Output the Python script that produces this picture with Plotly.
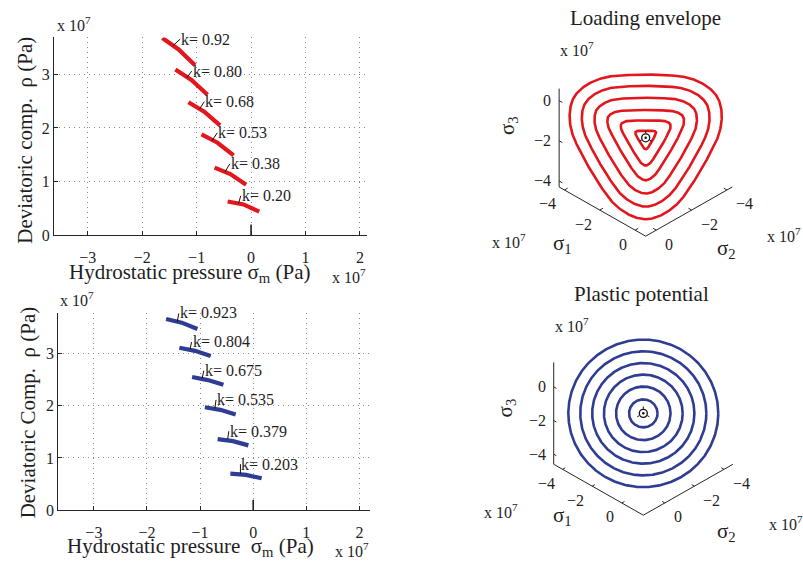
import numpy as np
import plotly.graph_objects as go

FONT = "Liberation Serif"
W, H = 803, 569
RED = "#e3161d"
BLUE = "#2e3d93"
AXC = "#262626"
TXT = "#1e1e1e"

# ---------------- data (units of 1e7 Pa) ----------------
# top-left: loading envelope meridian sections
k_load = ["k= 0.92", "k= 0.80", "k= 0.68", "k= 0.53", "k= 0.38", "k= 0.20"]
load_sm_start = [-1.63, -1.39, -1.15, -0.91, -0.67, -0.43]
load_rho_start = [3.68, 3.09, 2.48, 1.88, 1.26, 0.63]
load_sm_mid = [-1.33, -1.095, -0.86, -0.615, -0.38, -0.14]
load_rho_mid = [3.465, 2.895, 2.305, 1.725, 1.14, 0.575]
load_sm_end = [-1.03, -0.80, -0.57, -0.32, -0.09, 0.15]
load_rho_end = [3.17, 2.62, 2.05, 1.49, 0.94, 0.44]
load_tag_sm = [-1.43, -1.18, -0.95, -0.72, -0.48, -0.23]
load_tag_rho = [3.54, 2.94, 2.35, 1.76, 1.18, 0.59]
load_lab_sm = [-1.30, -1.09, -0.86, -0.62, -0.39, -0.19]
load_lab_rho = [3.66, 3.06, 2.49, 1.91, 1.33, 0.735]

# bottom-left: plastic potential meridian sections
k_pot = ["k= 0.923", "k= 0.804", "k= 0.675", "k= 0.535", "k= 0.379", "k= 0.203"]
pot_sm_start = [-1.64, -1.39, -1.15, -0.91, -0.67, -0.43]
pot_rho_start = [3.66, 3.11, 2.55, 1.97, 1.36, 0.70]
pot_sm_mid = [-1.345, -1.095, -0.855, -0.62, -0.38, -0.135]
pot_rho_mid = [3.59, 3.05, 2.49, 1.92, 1.32, 0.675]
pot_sm_end = [-1.05, -0.80, -0.56, -0.33, -0.09, 0.16]
pot_rho_end = [3.47, 2.95, 2.40, 1.83, 1.24, 0.61]
pot_tag_sm = [-1.43, -1.19, -0.96, -0.72, -0.48, -0.24]
pot_tag_rho = [3.61, 3.08, 2.53, 1.95, 1.36, 0.70]
pot_lab_sm = [-1.40, -1.16, -0.93, -0.70, -0.46, -0.24]
pot_lab_rho = [3.78, 3.22, 2.67, 2.11, 1.51, 0.88]

hydro_sm = [0, 0]
hydro_rho = [0, 0.2]

# top-right: deviatoric sections of loading envelope
# rho at compression meridian (vertex) and tension meridian (flat side)
env_rho_comp = [3.31, 2.80, 2.27, 1.73, 1.13, 0.47]
env_rho_tens = [2.57, 2.11, 1.63, 1.13, 0.71, 0.29]
env_lim = [-4.3, 0.6]

# bottom-right: deviatoric sections of plastic potential
pot_rho = [3.58, 3.01, 2.44, 1.88, 1.30, 0.68]
pot_lim = [-4.6, 1.45]

ticks_left_x = [-3, -2, -1, 0, 1, 2]
ticks_left_y = [0, 1, 2, 3]
ticks3d = [-4, -2, 0]

# ---------------- geometry of the panels (pixels) ----------------
TL = dict(x0=54, x1=367, y0=38, y1=239, xr=[-3.62, 2.13], yr=[0, 3.69])
BL = dict(x0=58.3, x1=370, y0=318.3, y1=518.3, xr=[-3.67, 2.2], yr=[0, 3.77])
L_env, C_env = 20.4, (645.7, 140.0)
L_pot, C_pot = 17.1, (643.3, 420.0)


def px(x):
    return x / W


def py(y):
    return 1 - y / H


def proj(s1, s2, s3):
    s1, s2, s3 = np.asarray(s1, float), np.asarray(s2, float), np.asarray(s3, float)
    return 0.8660254 * (s1 - s2), s3 - 0.5 * (s1 + s2)


SQ = np.sqrt(1.5)

fig = go.Figure()


def line(x, y, xa, ya, color=AXC, width=1.0):
    fig.add_trace(go.Scatter(x=list(x), y=list(y), mode="lines", xaxis=xa, yaxis=ya,
                             line=dict(color=color, width=width), hoverinfo="skip",
                             showlegend=False))


def data_to_paper(P, x, y):
    fx = P["x0"] + (x - P["xr"][0]) / (P["xr"][1] - P["xr"][0]) * (P["x1"] - P["x0"])
    fy = P["y1"] - (y - P["yr"][0]) / (P["yr"][1] - P["yr"][0]) * (P["y1"] - P["y0"])
    return px(fx), py(fy)


# ------------- left panels -------------
def left_panel(P, xa, ya, s0, r0, sm, rm, s1, r1, ts, tr, ls, lr, labels, color):
    for i in range(len(labels)):
        line([s0[i], sm[i], s1[i]], [r0[i], rm[i], r1[i]], xa, ya, color, 4.2)
    for i in range(len(labels)):
        line([ts[i], ls[i]], [tr[i], min(lr[i], P["yr"][1])], xa, ya, "#111", 1.0)
        ax, ay = data_to_paper(P, ls[i], lr[i])
        fig.add_annotation(x=ax, y=ay, xref="paper", yref="paper", text=labels[i],
                           showarrow=False, xanchor="left", yanchor="middle", xshift=-1,
                           font=dict(family=FONT, size=16, color=TXT))
    line(hydro_sm, hydro_rho, xa, ya, "#111", 1.5)


left_panel(TL, "x", "y", load_sm_start, load_rho_start, load_sm_mid, load_rho_mid,
           load_sm_end, load_rho_end, load_tag_sm, load_tag_rho, load_lab_sm, load_lab_rho,
           k_load, RED)
left_panel(BL, "x2", "y2", pot_sm_start, pot_rho_start, pot_sm_mid, pot_rho_mid,
           pot_sm_end, pot_rho_end, pot_tag_sm, pot_tag_rho, pot_lab_sm, pot_lab_rho,
           k_pot, BLUE)


# ------------- right panels -------------
def box3d(xa, ya, lim):
    lo, hi = lim
    x, y = proj([lo, lo], [hi, hi], [lo, hi]); line(x, y, xa, ya)
    x, y = proj([lo, hi], [hi, hi], [lo, lo]); line(x, y, xa, ya)
    x, y = proj([hi, hi], [hi, lo], [lo, lo]); line(x, y, xa, ya)
    tl = 0.18
    for t in ticks3d:
        x, y = proj([lo, lo + tl], [hi, hi], [t, t]); line(x, y, xa, ya)
        x, y = proj([t, t], [hi, hi - tl], [lo, lo]); line(x, y, xa, ya)
        x, y = proj([hi, hi - tl], [t, t], [lo, lo]); line(x, y, xa, ya)
        lab = "\u2212%d" % (-t) if t < 0 else "%d" % t
        x, y = proj(lo, hi, t)
        fig.add_annotation(x=float(x), y=float(y), xref=xa, yref=ya, text=lab, showarrow=False,
                           xanchor="right", yanchor="middle", xshift=-6,
                           font=dict(family=FONT, size=16, color=TXT))
        x, y = proj(t, hi, lo)
        fig.add_annotation(x=float(x), y=float(y), xref=xa, yref=ya, text=lab, showarrow=False,
                           xanchor="right", yanchor="middle", xshift=-6, yshift=-14,
                           font=dict(family=FONT, size=16, color=TXT))
        x, y = proj(hi, t, lo)
        fig.add_annotation(x=float(x), y=float(y), xref=xa, yref=ya, text=lab, showarrow=False,
                           xanchor="left", yanchor="middle", xshift=7, yshift=-14,
                           font=dict(family=FONT, size=16, color=TXT))


def center_mark(xa, ya, L):
    x, y = proj(0, 0, 0)
    x, y = float(x), float(y)
    fig.add_trace(go.Scatter(x=[x], y=[y], mode="markers", xaxis=xa, yaxis=ya,
                             marker=dict(symbol="circle-open", size=8, color="#111",
                                         line=dict(width=1.3, color="#111")),
                             hoverinfo="skip", showlegend=False))
    fig.add_trace(go.Scatter(x=[x], y=[y], mode="markers", xaxis=xa, yaxis=ya,
                             marker=dict(symbol="circle", size=2.5, color="#111"),
                             hoverinfo="skip", showlegend=False))
    for ang in (90, 210, 330):
        a = np.radians(ang)
        r0, r1 = 4.5 / L, 7.0 / L
        line([x + r0 * np.cos(a), x + r1 * np.cos(a)], [y + r0 * np.sin(a), y + r1 * np.sin(a)],
             xa, ya, "#111", 1.0)


PHI = np.linspace(0, 2 * np.pi, 721)


def offset_triangle_r(rc, rt):
    # polar radius of the set of points within d of an equilateral triangle (vertex down)
    R0 = 2.0 * (rc - rt)
    d = 2.0 * rt - rc
    xs, ys = [], []
    for vdeg in (270, 30, 150):
        v = np.radians(vdeg)
        a = np.radians(np.linspace(vdeg - 60, vdeg + 60, 120))
        xs.extend(R0 * np.cos(v) + d * np.cos(a))
        ys.extend(R0 * np.sin(v) + d * np.sin(a))
    xs.append(xs[0]); ys.append(ys[0])
    xs, ys = np.array(xs), np.array(ys)
    s = np.concatenate([[0], np.cumsum(np.hypot(np.diff(xs), np.diff(ys)))])
    su = np.linspace(0, s[-1], 3000)
    xd, yd = np.interp(su, s, xs), np.interp(su, s, ys)
    ang = np.mod(np.arctan2(yd, xd), 2 * np.pi)
    rad = np.hypot(xd, yd)
    o = np.argsort(ang)
    return np.interp(PHI, ang[o], rad[o], period=2 * np.pi)


def willam_warnke_r(rc, rt):
    # Lode angle measured from the nearest tension meridian (90, 210, 330 deg)
    th = np.abs(np.mod(PHI - np.pi / 2 + np.pi / 3, 2 * np.pi / 3) - np.pi / 3)
    c = np.cos(th)
    D = rc * rc - rt * rt
    num = 2 * rc * D * c + rc * (2 * rt - rc) * np.sqrt(4 * D * c * c + 5 * rt * rt - 4 * rt * rc)
    den = 4 * D * c * c + (rc - 2 * rt) ** 2
    return num / den


for rc, rt in zip(env_rho_comp, env_rho_tens):
    r = SQ * 0.5 * (offset_triangle_r(rc, rt) + willam_warnke_r(rc, rt))
    line(r * np.cos(PHI), r * np.sin(PHI), "x3", "y3", RED, 2.6)

for rho in pot_rho:
    r = SQ * rho
    line(r * np.cos(PHI), r * np.sin(PHI), "x4", "y4", BLUE, 2.6)

box3d("x3", "y3", env_lim)
box3d("x4", "y4", pot_lim)
center_mark("x3", "y3", L_env)
center_mark("x4", "y4", L_pot)

# ------------- axes -------------
tf = dict(family=FONT, size=16, color=TXT)


def left_axis(dom, rng, vals, standoff):
    return dict(domain=dom, range=rng, tickvals=vals, ticks="inside", ticklen=4, tickcolor=AXC,
                showline=True, linecolor=AXC, linewidth=1, showgrid=True, gridcolor="#8a8a8a",
                griddash="1px,4px", gridwidth=1, zeroline=False, tickfont=tf, fixedrange=True,
                ticklabelstandoff=standoff)


def right_axis(p0, p1, c, L, flip=False):
    if flip:
        return dict(domain=[py(p1), py(p0)], range=[(c - p1) / L, (c - p0) / L], visible=False,
                    fixedrange=True)
    return dict(domain=[px(p0), px(p1)], range=[(p0 - c) / L, (p1 - c) / L], visible=False,
                fixedrange=True)


fig.update_layout(
    width=W, height=H, margin=dict(l=0, r=0, t=0, b=0),
    paper_bgcolor="white", plot_bgcolor="white", showlegend=False,
    xaxis=dict(left_axis([px(TL["x0"]), px(TL["x1"])], TL["xr"], ticks_left_x, 8), anchor="y"),
    yaxis=dict(left_axis([py(TL["y1"]), py(TL["y0"])], TL["yr"], ticks_left_y, 0), anchor="x"),
    xaxis2=dict(left_axis([px(BL["x0"]), px(BL["x1"])], BL["xr"], ticks_left_x, 8), anchor="y2"),
    yaxis2=dict(left_axis([py(BL["y1"]), py(BL["y0"])], BL["yr"], ticks_left_y, 0), anchor="x2"),
    xaxis3=dict(right_axis(470, 803, C_env[0], L_env), anchor="y3"),
    yaxis3=dict(right_axis(40, 262, C_env[1], L_env, flip=True), anchor="x3"),
    xaxis4=dict(right_axis(470, 803, C_pot[0], L_pot), anchor="y4"),
    yaxis4=dict(right_axis(318, 548, C_pot[1], L_pot, flip=True), anchor="x4"),
)


def ptext(x, y, text, size=21, xanchor="center", angle=0):
    fig.add_annotation(x=px(x), y=py(y), xref="paper", yref="paper", text=text, showarrow=False,
                       xanchor=xanchor, yanchor="middle", textangle=angle,
                       font=dict(family=FONT, size=size, color=TXT))


MULT = "x 10<sup>7</sup>"
# left panels
ptext(25, 143, "Deviatoric comp.&nbsp; \u03c1 (Pa)", angle=-90)
ptext(189, 277, "Hydrostatic pressure \u03c3<sub>m</sub> (Pa)")
ptext(55, 24, MULT, 16, "left")
ptext(330, 280, MULT, 16, "left")
ptext(28, 419, "Deviatoric Comp.&nbsp; \u03c1 (Pa)", angle=-90)
ptext(190, 556, "Hydrostatic pressure&nbsp; \u03c3<sub>m</sub> (Pa)")
ptext(58, 304, MULT, 16, "left")
ptext(333, 559, MULT, 16, "left")
# right panels
ptext(645.7, 18.3, "Loading envelope")
ptext(558, 50, MULT, 16, "left")
ptext(490, 245, MULT, 16, "left")
ptext(765, 239, MULT, 16, "left")
ptext(562, 248, "\u03c3<sub>1</sub>")
ptext(726, 253, "\u03c3<sub>2</sub>")
ptext(508, 128, "\u03c3<sub>3</sub>", angle=-90)

ptext(641.7, 298.3, "Plastic potential")
ptext(553, 330, MULT, 16, "left")
ptext(482, 519, MULT, 16, "left")
ptext(767, 531, MULT, 16, "left")
ptext(562, 524, "\u03c3<sub>1</sub>")
ptext(726, 541, "\u03c3<sub>2</sub>")
ptext(506, 415, "\u03c3<sub>3</sub>", angle=-90)

POST = (
    "document.documentElement.style.margin='0';"
    "document.documentElement.style.overflow='hidden';"
    "document.body.style.margin='0';"
    "document.body.style.overflow='hidden';"
    "var gd=document.getElementById('{plot_id}');"
    "gd.style.position='absolute';gd.style.left='0px';gd.style.top='0px';"
)
fig.write_html("out.html", post_script=POST, config={"displayModeBar": False})
